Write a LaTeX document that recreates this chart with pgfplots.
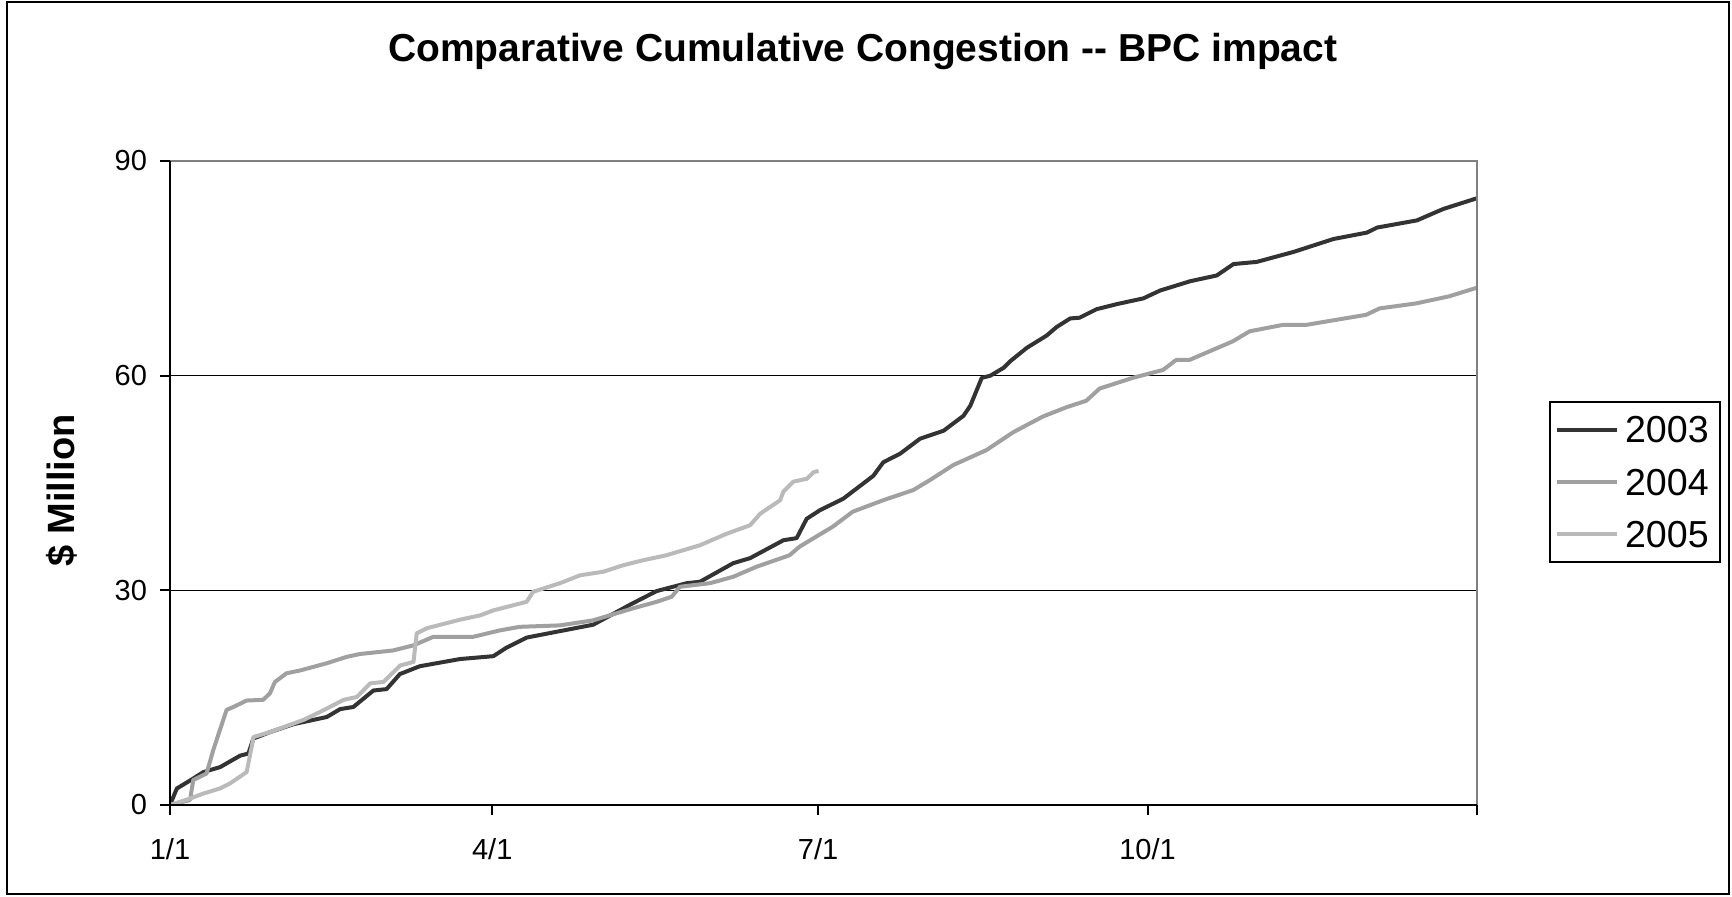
\documentclass[border=0pt]{standalone}
\usepackage{pgfplots}
\pgfplotsset{compat=1.18}
\usepackage{fontspec}
\setmainfont{Liberation Sans}
\definecolor{c03}{RGB}{51,51,51}
\definecolor{c04}{RGB}{160,160,160}
\definecolor{c05}{RGB}{186,186,186}
\definecolor{frameg}{RGB}{128,128,128}
\begin{document}
\begin{tikzpicture}
\path (0,0) rectangle (866pt,448pt);
\draw[black, line width=1pt] (3.5pt,1pt) rectangle (864.5pt,447pt);
\begin{axis}[
  name=ax,
  at={(85pt,45.5pt)}, anchor=south west,
  scale only axis, width=653.5pt, height=322pt,
  xmin=0, xmax=365, ymin=0, ymax=90,
  xtick={0,90,181,273,365}, xticklabels={1/1,4/1,7/1,10/1,{}},
  ytick={0,30,60,90},
  ymajorgrids, grid style={black, line width=0.6pt},
  axis line style={draw=none},
  tick align=outside, major tick length=5pt, xtick pos=bottom, ytick pos=left,
  tick style={black, line width=1pt},
  ticklabel style={font=\fontsize{14.5}{17}\selectfont},
  /pgf/number format/assume math mode=true,
  xticklabel style={yshift=-8pt},
  yticklabel style={xshift=-3pt},
  title={Comparative Cumulative Congestion -{}- BPC impact},
  title style={at={(rel axis cs:0.53,1.136)}, anchor=base, font=\fontsize{19.5}{23}\bfseries\selectfont},
  ylabel={\$ Million},
  ylabel style={at={([xshift=-54pt]rel axis cs:0,0.489)}, anchor=center, font=\fontsize{19}{23}\bfseries\selectfont},
  legend style={at={(rel axis cs:1.0551,0.6273)}, anchor=north west, draw=black, line width=1pt, fill=white,
    inner xsep=2.5pt, inner ysep=4.25pt, row sep=7pt, font=\fontsize{18.8}{22}\selectfont,
    nodes={inner sep=3pt, text depth=0pt}},
  legend cell align=left,
  legend image code/.code={\draw[#1] (0pt,0pt) -- (30pt,0pt);},
  every axis plot/.append style={line width=2pt, line join=round, no markers},
]
\addplot[c03] coordinates {
(0,0) (1.9,2.3) (6.5,3.7) (9.3,4.6) (14,5.3) (19.6,6.9) (21.9,7.2) (23.3,9.3) (28,10.2)
(34.5,11.3) (43.8,12.3) (47.5,13.4) (51.2,13.7) (56.8,16) (60.5,16.2) (64.2,18.3) (69.8,19.4)
(81,20.4) (90.3,20.8) (94,22) (99.6,23.4) (108.9,24.3) (118.2,25.2) (128.5,28.0) (135.9,29.9)
(144.3,31.0) (148,31.2) (157.3,33.8) (162,34.5) (171.3,37.0) (175,37.3) (177.8,40.0) (181.5,41.2)
(188,42.8) (196.4,46.0) (199.2,47.9) (203.9,49.1) (209.5,51.2) (216,52.3) (221.6,54.4) (223.5,55.8)
(226.7,59.7) (229.1,60.0) (232.8,61.1) (234.6,62.0) (239.3,63.9) (244.8,65.6) (247.6,66.8) (251.4,68.0)
(254,68.1) (258.8,69.3) (264.4,70.0) (271.8,70.8) (276.5,71.9) (284.9,73.2) (292.3,74.0) (297,75.6)
(303.5,75.9) (313.8,77.3) (324.9,79.1) (334.3,80.0) (337.1,80.7) (348.2,81.7) (355.6,83.3) (365,84.8)
};
\addlegendentry{2003}
\addplot[c04] coordinates {
(0,0) (5.6,0.7) (6.5,3.5) (10.2,4.4) (12.1,7.7) (15.8,13.3) (17.7,13.7) (21.4,14.6) (26,14.7)
(27.9,15.6) (29.3,17.2) (32.5,18.4) (36.3,18.8) (43.7,19.8) (49.3,20.7) (53,21.1) (62.3,21.6)
(67.9,22.3) (73.5,23.5) (84.6,23.5) (92.1,24.4) (97.6,24.9) (108.8,25.1) (118.1,25.8) (129.4,27.5)
(135.9,28.4) (140.1,29.1) (142.4,30.5) (150.8,31.0) (157.3,31.9) (163.8,33.3) (173,34.9) (175.8,36.1)
(185.1,38.9) (190.7,41.0) (199.2,42.6) (207.5,44.0) (212.2,45.4) (218.7,47.5) (228,49.6) (235.5,52.1)
(243.8,54.3) (250.4,55.6) (255.9,56.5) (259.6,58.2) (268.9,59.7) (277.3,60.8) (281,62.2) (284.7,62.2)
(296.8,64.8) (301.5,66.2) (310.8,67.1) (317.3,67.1) (334,68.5) (337.8,69.4) (348,70.1) (357.3,71.1) (365,72.3)
};
\addlegendentry{2004}
\addplot[c05] coordinates {
(0,0) (5.6,0.9) (9.3,1.6) (13.9,2.3) (16.7,3.0) (21.4,4.6) (22.8,8.1) (23.3,9.5) (28,10.2)
(37.3,11.9) (41.9,13.0) (48.5,14.7) (52.2,15.1) (55.9,17.0) (59.6,17.2) (64.3,19.5) (68,20.0)
(68.9,24.0) (71.7,24.7) (81,25.9) (86.6,26.5) (90.3,27.2) (99.6,28.4) (101.4,29.8) (108.9,31.0)
(114.5,32.1) (121,32.6) (126.5,33.5) (132.1,34.2) (138.6,34.9) (148,36.3) (155.4,37.9) (162,39.1)
(164.8,40.7) (170.4,42.6) (171.3,43.8) (174.1,45.2) (177.9,45.6) (179.7,46.5) (181.1,46.7)
};
\addlegendentry{2005}
\end{axis}
\draw[frameg, line width=1pt] (ax.north west) -- (ax.north east) -- (ax.south east);
\draw[black, line width=1pt] (ax.north west) -- (ax.south west) -- (ax.south east);
\end{tikzpicture}
\end{document}
